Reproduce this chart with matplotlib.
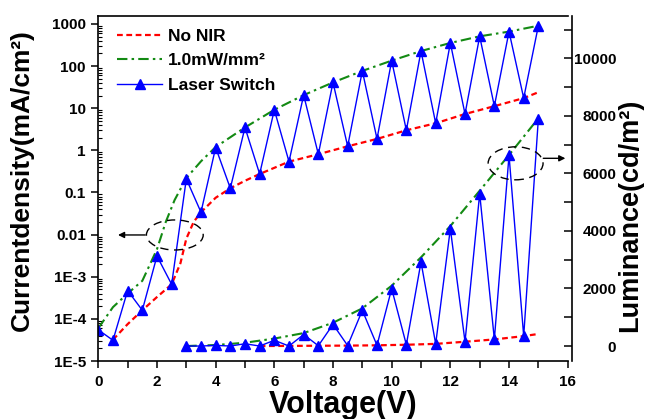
import matplotlib
matplotlib.use("Agg")
import matplotlib.pyplot as plt
from matplotlib.patches import Ellipse
from matplotlib.ticker import FixedLocator, LogLocator, NullFormatter, MultipleLocator

plt.rcParams['font.family'] = ['Liberation Sans', 'DejaVu Sans']
plt.rcParams['font.weight'] = 'bold'

# ---------------- data ----------------
# Current density (left axis, log)
v_switch_j = [0, 0.5, 1, 1.5, 2, 2.5, 3, 3.5, 4, 4.5, 5, 5.5, 6, 6.5, 7, 7.5,
              8, 8.5, 9, 9.5, 10, 10.5, 11, 11.5, 12, 12.5, 13, 13.5, 14, 14.5, 15]
j_switch = [5.5e-5, 3.1e-5, 4.7e-4, 1.6e-4, 3.1e-3, 6.6e-4, 0.21, 0.034, 1.17, 0.126,
            3.5, 0.275, 9.2, 0.54, 20.5, 0.81, 41, 1.25, 77, 1.87, 135, 3.0,
            228, 4.4, 355, 7.3, 510, 11.2, 660, 17.4, 910]

v_nir_j = [0, 0.5, 1, 1.5, 2, 2.3, 2.6, 3, 3.5, 4, 5, 6, 7, 8, 9, 10, 11, 12, 13, 14, 15]
j_nir = [6e-5, 1.9e-4, 4e-4, 8e-4, 4.5e-3, 0.02, 0.066, 0.22, 0.55, 1.2, 3.5, 9.2,
         20.5, 41, 77, 135, 228, 355, 510, 660, 910]

v_off_j = [0.5, 1, 1.5, 2, 2.5, 2.8, 3, 3.25, 3.5, 4, 4.5, 5, 5.5, 6.5, 7.5, 8.5,
           9.5, 10.5, 11.5, 12.5, 13.5, 14.5, 15]
j_off = [3.2e-5, 7.5e-5, 1.6e-4, 3.3e-4, 6.6e-4, 2.1e-3, 8e-3, 0.02, 0.034, 0.075,
         0.126, 0.19, 0.275, 0.54, 0.81, 1.25, 1.87, 3.0, 4.4, 7.3, 11.2, 17.4, 24]

# Luminance (right axis)
v_switch_l = [3, 3.5, 4, 4.5, 5, 5.5, 6, 6.5, 7, 7.5, 8, 8.5, 9, 9.5, 10, 10.5,
              11, 11.5, 12, 12.5, 13, 13.5, 14, 14.5, 15]
l_switch = [0, 0, 23, 0, 80, 0, 200, 0, 400, 10, 753, 15, 1240, 25, 1993, 45,
            2920, 75, 4079, 150, 5295, 230, 6628, 345, 7902]

v_nir_l = [3, 4, 5, 6, 7, 8, 9, 10, 11, 12, 13, 14, 15]
l_nir = [0, 35, 115, 260, 450, 810, 1310, 2096, 3083, 4171, 5398, 6639, 7914]

v_off_l = [5.5, 6.5, 7.5, 8.5, 9.5, 10.5, 11.5, 12.5, 13.5, 14.5, 15]
l_off = [0, 5, 10, 15, 25, 45, 75, 150, 230, 345, 420]

left_ticks = [1e-5, 1e-4, 1e-3, 1e-2, 1e-1, 1, 10, 100, 1000]
left_tick_labels = ['1E-5', '1E-4', '1E-3', '0.01', '0.1', '1', '10', '100', '1000']
right_ticks = [0, 2000, 4000, 6000, 8000, 10000]
x_ticks = [0, 2, 4, 6, 8, 10, 12, 14, 16]

labels = ['No NIR', '1.0mW/mm\u00b2', 'Laser Switch']

# ---------------- figure ----------------
fig = plt.figure(figsize=(6.51, 4.19), dpi=100)
ax = fig.add_axes([98.3 / 651, 1 - 361 / 419, 469.4 / 651, 345.3 / 419])
ax2 = ax.twinx()

red = '#ff0000'
green = '#138a13'
blue = '#0000ff'
dot_style = (0, (2.6, 1.6))
dashdot_style = (0, (5, 2, 1.2, 2))

l1, = ax.plot(v_off_j, j_off, color=red, ls=dot_style, lw=1.6)
l2, = ax.plot(v_nir_j, j_nir, color=green, ls=dashdot_style, lw=1.5)
l3, = ax.plot(v_switch_j, j_switch, color=blue, lw=1.0, marker='^', ms=7.5,
              mfc=blue, mec=blue)

ax2.plot(v_off_l, l_off, color=red, ls=dot_style, lw=1.6)
ax2.plot(v_nir_l, l_nir, color=green, ls=dashdot_style, lw=1.5)
ax2.plot(v_switch_l, l_switch, color=blue, lw=1.0, marker='^', ms=7.5,
         mfc=blue, mec=blue)

ax.set_yscale('log')
ax.set_xlim(0, 16)
ax.set_ylim(1e-5, 1574)
ax2.set_ylim(-520, 11480)

ax.yaxis.set_major_locator(FixedLocator(left_ticks))
ax.set_yticklabels(left_tick_labels)
ax.yaxis.set_minor_locator(LogLocator(base=10, subs=range(2, 10), numticks=100))
ax.yaxis.set_minor_formatter(NullFormatter())
ax.set_xticks(x_ticks)
ax.xaxis.set_minor_locator(MultipleLocator(1))
ax2.set_yticks(right_ticks)
ax2.yaxis.set_minor_locator(MultipleLocator(1000))

tick_fs = 11
ax.tick_params(axis='x', which='both', direction='out', length=5, width=1.1,
               labelsize=tick_fs, pad=5, top=False)
ax.tick_params(axis='y', which='major', direction='out', length=5, width=1.1,
               labelsize=tick_fs, pad=4, right=False)
ax.tick_params(axis='y', which='minor', direction='in', length=3, width=0.8, right=False)
ax2.tick_params(axis='y', which='both', direction='in', length=6, width=1.1,
                labelsize=tick_fs, pad=32)

for s in ['left', 'bottom', 'top']:
    ax.spines[s].set_linewidth(1.2)
ax.spines['right'].set_visible(False)
for s in ['left', 'bottom', 'top']:
    ax2.spines[s].set_visible(False)
ax2.spines['right'].set_linewidth(1.2)
ax2.spines['right'].set_position(('outward', 3))

ax.set_xlabel('Voltage(V)', fontsize=22, fontweight='bold', va='center')
ax.xaxis.set_label_coords(0.521, -0.127)
ax.set_ylabel('Currentdensity(mA/cm\u00b2)', fontsize=19, fontweight='bold', va='center')
ax.yaxis.set_label_coords(-0.1625, 0.524)
ax2.set_ylabel('Luminance(cd/m\u00b2)', fontsize=19.5, fontweight='bold', va='center',
               rotation=90)
ax2.yaxis.set_label_coords(1.133, 0.423)

# annotation ellipses and arrows
e1 = Ellipse((0.163, 0.365), 0.121, 0.087, transform=ax2.transAxes, fill=False,
             ec='black', lw=1.0, ls=(0, (6, 4)), zorder=5)
e2 = Ellipse((0.889, 0.5725), 0.117, 0.0956, transform=ax2.transAxes, fill=False,
             ec='black', lw=1.0, ls=(0, (6, 4)), zorder=5)
ax2.add_patch(e1)
ax2.add_patch(e2)
ax2.annotate('', xy=(0.042, 0.365), xycoords='axes fraction',
             xytext=(0.1, 0.365), textcoords='axes fraction',
             arrowprops=dict(arrowstyle='-|>', color='black', lw=1.0,
                             mutation_scale=9, shrinkA=0, shrinkB=0))
ax2.annotate('', xy=(0.995, 0.587), xycoords='axes fraction',
             xytext=(0.948, 0.587), textcoords='axes fraction',
             arrowprops=dict(arrowstyle='-|>', color='black', lw=1.0,
                             mutation_scale=9, shrinkA=0, shrinkB=0),
             annotation_clip=False)

leg = ax2.legend([l1, l2, l3], labels, loc='upper left',
                 bbox_to_anchor=(0.04, 0.963), frameon=False, fontsize=12.5,
                 handlelength=2.6, handletextpad=0.35, labelspacing=0.55,
                 borderpad=0, borderaxespad=0, numpoints=1)
for t in leg.get_texts():
    t.set_fontweight('bold')

# right-align the luminance tick labels against a common right edge
fig.canvas.draw()
for tick in ax2.yaxis.get_major_ticks():
    tick.label2.set_horizontalalignment('right')

fig.savefig('out.png', dpi=100)
